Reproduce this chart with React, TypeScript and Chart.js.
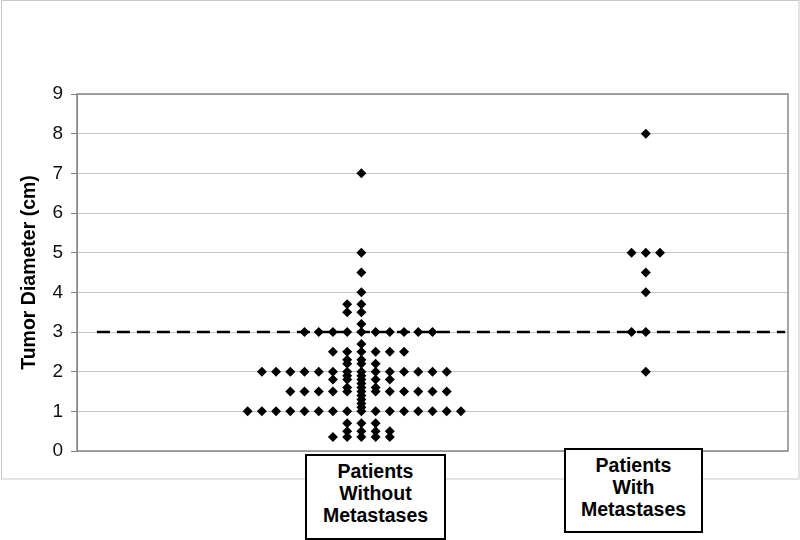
import React, { useEffect, useRef } from "react";
import { Chart, registerables } from "chart.js";

Chart.register(...registerables);

// ---- data ----
const yTickValues = [0, 1, 2, 3, 4, 5, 6, 7, 8, 9];
const categoryLabels = [
  ["Patients", "Without", "Metastases"],
  ["Patients", "With", "Metastases"],
];
const categoryCenters = [0, 20]; // in dot-slot units
const xRange = [-20, 30];

// Patients without metastases: diameter levels and the dot slots used at each level
const withoutLevels = [
  1.0, 2.0, 1.5, 3.0, 2.5, 0.7, 0.5, 0.35, 1.8, 1.6, 2.2, 2.3, 1.9, 3.5, 3.7,
  1.1, 1.2, 1.3, 1.4, 1.7, 2.7, 3.2, 4.0, 4.5, 5.0, 7.0,
];
const withoutSlots = [
  [-8, -7, -6, -5, -4, -3, -2, -1, 0, 1, 2, 3, 4, 5, 6, 7],
  [-7, -6, -5, -4, -3, -2, -1, 0, 1, 2, 3, 4, 5, 6],
  [-5, -4, -3, -2, -1, 0, 1, 2, 3, 4, 5, 6],
  [-4, -3, -2, -1, 0, 1, 2, 3, 4, 5],
  [-2, -1, 0, 1, 2, 3],
  [-1, 0, 1],
  [-1, 0, 1, 2],
  [-2, -1, 0, 1, 2],
  [-2, -1, 0, 1, 2],
  [-1, 0, 1],
  [-1, 0, 1],
  [-1, 0],
  [-1, 0],
  [-1, 0],
  [-1, 0],
  [0], [0], [0], [0], [0], [0], [0], [0], [0], [0], [0],
];

// Patients with metastases
const withValues = [8, 5, 5, 5, 4.5, 4, 3, 3, 2];
const withSlots = [0, -1, 0, 1, 0, 0, -1, 0, 0];

// Cut-off line
const cutoffValue = 3;
const cutoffXs = [-18.6, 29.8];

const FONT = "Arial, 'Liberation Sans', Helvetica, sans-serif";

function buildWithout() {
  const pts: { x: number; y: number }[] = [];
  withoutLevels.forEach((v, i) => {
    withoutSlots[i].forEach((s) => pts.push({ x: categoryCenters[0] + s, y: v }));
  });
  return pts;
}

function buildWith() {
  return withValues.map((v, i) => ({ x: categoryCenters[1] + withSlots[i], y: v }));
}

const framePlugin = {
  id: "frames",
  beforeDraw(chart: any) {
    const ctx = chart.ctx;
    ctx.save();
    ctx.fillStyle = "#ffffff";
    ctx.fillRect(0, 0, chart.width, chart.height);
    ctx.strokeStyle = "#c8c8c8";
    ctx.lineWidth = 1;
    ctx.strokeRect(1.5, 0.5, 797.5, 478.5);
    ctx.restore();
  },
  beforeDatasetsDraw(chart: any) {
    const { ctx, chartArea } = chart;
    ctx.save();
    ctx.strokeStyle = "#888888";
    ctx.lineWidth = 1.5;
    ctx.strokeRect(chartArea.left, chartArea.top, chartArea.right - chartArea.left, chartArea.bottom - chartArea.top);
    ctx.restore();
  },
};

export default function App() {
  const canvasRef = useRef<HTMLCanvasElement | null>(null);

  useEffect(() => {
    if (!canvasRef.current) return;
    const chart = new Chart(canvasRef.current, {
      type: "scatter",
      data: {
        datasets: [
          {
            type: "line",
            data: cutoffXs.map((x) => ({ x, y: cutoffValue })),
            borderColor: "#000000",
            borderWidth: 2.5,
            borderDash: [13, 7],
            pointRadius: 0,
            fill: false,
            order: 2,
          } as any,
          {
            data: buildWithout(),
            pointStyle: "rectRot",
            pointRadius: 5,
            backgroundColor: "#000000",
            borderColor: "#000000",
            borderWidth: 0,
            order: 1,
          },
          {
            data: buildWith(),
            pointStyle: "rectRot",
            pointRadius: 5,
            backgroundColor: "#000000",
            borderColor: "#000000",
            borderWidth: 0,
            order: 1,
          },
        ],
      },
      options: {
        responsive: false,
        animation: false,
        devicePixelRatio: 1,
        layout: { padding: { left: 0, top: 94, right: 12, bottom: 89 } },
        plugins: { legend: { display: false }, tooltip: { enabled: false } },
        scales: {
          x: { type: "linear", min: xRange[0], max: xRange[1], display: false },
          y: {
            min: 0,
            max: 9,
            afterBuildTicks: (s: any) => {
              s.ticks = yTickValues.map((v) => ({ value: v }));
            },
            afterFit: (s: any) => {
              s.width = 77;
            },
            ticks: {
              color: "#111111",
              font: { family: FONT, size: 19 },
              padding: 8,
            },
            grid: { color: "#c4c4c4", tickColor: "#808080", tickLength: 6, lineWidth: 1 },
            border: { color: "#808080", width: 1 },
            title: {
              display: true,
              text: "Tumor Diameter (cm)",
              color: "#000000",
              font: { family: FONT, size: 19.5, weight: "bold" },
              padding: { top: 18, bottom: 0 },
            },
          },
        },
      },
      plugins: [framePlugin],
    });
    return () => chart.destroy();
  }, []);

  const boxStyle = (left: number, top: number, width: number, height: number): React.CSSProperties => ({
    position: "absolute",
    left,
    top,
    width,
    height,
    boxSizing: "border-box",
    border: "2px solid #000",
    background: "#fff",
    display: "flex",
    flexDirection: "column",
    alignItems: "center",
    justifyContent: "center",
    paddingBottom: 8,
    fontFamily: FONT,
    fontWeight: "bold",
    fontSize: 19.5,
    lineHeight: "22px",
    color: "#000",
    textAlign: "center",
  });

  return (
    <div style={{ position: "fixed", left: 0, top: 0, width: 800, height: 540, background: "#fff", overflow: "hidden" }}>
      <canvas ref={canvasRef} width={800} height={540} style={{ width: 800, height: 540, display: "block" }} />
      <div style={boxStyle(305, 454, 141, 86)}>
        {categoryLabels[0].map((l) => (
          <div key={l}>{l}</div>
        ))}
      </div>
      <div style={boxStyle(564, 448, 139, 85)}>
        {categoryLabels[1].map((l) => (
          <div key={l}>{l}</div>
        ))}
      </div>
    </div>
  );
}
